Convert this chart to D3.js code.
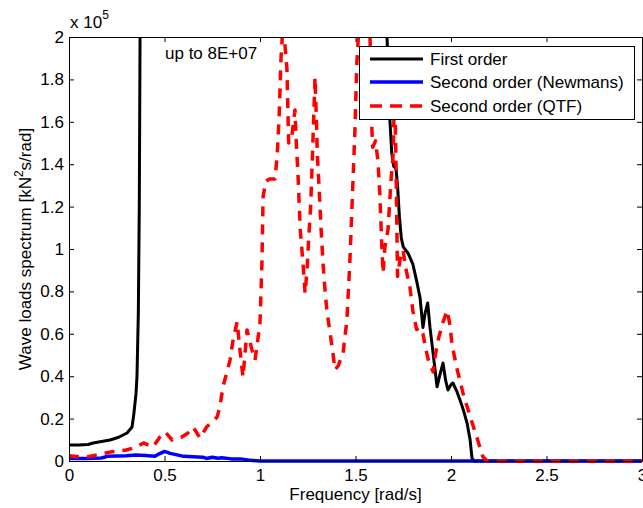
<!DOCTYPE html>
<html><head><meta charset="utf-8">
<script src="https://cdn.jsdelivr.net/npm/d3@7"></script>
<style>body{margin:0;background:#fff}svg{display:block}</style>
</head><body>
<svg id="chart" width="643" height="508"></svg>
<script>
// values in units of 1e5 kN^2 s/rad
const xTicks = [0, 0.5, 1, 1.5, 2, 2.5, 3];
const yTicks = [0, 0.2, 0.4, 0.6, 0.8, 1, 1.2, 1.4, 1.6, 1.8, 2];
const seriesNames = ["First order", "Second order (Newmans)", "Second order (QTF)"];
const firstOrder = [[0,0.075],[0.05,0.075],[0.1,0.078],[0.126,0.085],[0.215,0.099],[0.26,0.112],[0.304,0.132],[0.33,0.16],[0.34,0.226],[0.351,0.32],[0.356,0.40],[0.363,0.7],[0.368,1.2],[0.372,2.0],[0.4,20],[0.6,800],[0.9,300],[1.2,30],[1.64,2.6],[1.665,2.0],[1.675,1.75],[1.68,1.61],[1.69,1.45],[1.70,1.39],[1.712,1.38],[1.72,1.30],[1.73,1.15],[1.74,1.05],[1.75,1.01],[1.775,0.98],[1.80,0.93],[1.82,0.85],[1.838,0.77],[1.853,0.63],[1.865,0.70],[1.878,0.745],[1.89,0.63],[1.906,0.51],[1.927,0.35],[1.94,0.40],[1.958,0.462],[1.972,0.38],[1.984,0.335],[2.0,0.36],[2.01,0.368],[2.03,0.33],[2.047,0.288],[2.065,0.24],[2.084,0.179],[2.1,0.10],[2.11,0.014],[2.12,0],[3.0,0]];
const newmans = [[0,0.012],[0.1,0.012],[0.17,0.014],[0.2,0.022],[0.3,0.025],[0.35,0.028],[0.4,0.026],[0.45,0.022],[0.475,0.035],[0.5,0.045],[0.53,0.036],[0.56,0.03],[0.6,0.022],[0.65,0.02],[0.7,0.018],[0.72,0.012],[0.75,0.018],[0.78,0.013],[0.8,0.015],[0.85,0.01],[0.9,0.01],[0.95,0.003],[1.0,0],[3.0,0]];
const qtf = [[0,0.025],[0.05,0.02],[0.1,0.02],[0.15,0.03],[0.215,0.042],[0.30,0.052],[0.35,0.065],[0.39,0.085],[0.44,0.066],[0.476,0.113],[0.503,0.137],[0.54,0.099],[0.59,0.113],[0.62,0.13],[0.65,0.16],[0.686,0.108],[0.72,0.16],[0.775,0.207],[0.79,0.255],[0.806,0.35],[0.827,0.42],[0.843,0.476],[0.859,0.57],[0.88,0.656],[0.895,0.524],[0.911,0.396],[0.932,0.618],[0.958,0.524],[0.974,0.476],[1.0,0.65],[1.01,0.93],[1.016,1.245],[1.03,1.32],[1.05,1.33],[1.078,1.33],[1.089,1.43],[1.1,1.62],[1.11,1.9],[1.12,2.05],[1.13,1.97],[1.141,1.85],[1.15,1.5],[1.165,1.52],[1.183,1.656],[1.19,1.5],[1.20,1.33],[1.21,1.1],[1.225,0.934],[1.236,0.79],[1.246,0.9],[1.255,1.05],[1.265,1.2],[1.275,1.45],[1.288,1.81],[1.295,1.62],[1.30,1.45],[1.31,1.28],[1.32,1.09],[1.33,0.93],[1.34,0.81],[1.35,0.71],[1.377,0.54],[1.393,0.43],[1.41,0.45],[1.435,0.51],[1.455,0.665],[1.47,0.93],[1.487,1.325],[1.497,1.56],[1.507,1.877],[1.515,2.0],[1.54,2.4],[1.565,2.1],[1.576,2.0],[1.586,1.56],[1.59,1.48],[1.605,1.51],[1.618,1.41],[1.628,1.245],[1.638,1.01],[1.644,0.887],[1.654,1.01],[1.67,1.09],[1.686,1.325],[1.696,1.43],[1.705,1.75],[1.712,1.4],[1.72,0.87],[1.733,0.95],[1.749,0.995],[1.765,0.90],[1.785,0.82],[1.80,0.71],[1.82,0.62],[1.835,0.63],[1.853,0.60],[1.87,0.52],[1.88,0.48],[1.906,0.42],[1.918,0.50],[1.935,0.58],[1.96,0.66],[1.98,0.71],[1.995,0.64],[2.005,0.55],[2.03,0.44],[2.063,0.32],[2.10,0.21],[2.136,0.11],[2.167,0.02],[2.19,0],[3.0,0]];

const svg = d3.select("#chart");
const L = 69, R = 642, T = 37, B = 461;
const FONT = "Liberation Sans, Arial, Helvetica, sans-serif";
const x = d3.scaleLinear().domain([0, 3]).range([L, R]);
const y = d3.scaleLinear().domain([0, 2]).range([B, T]);

svg.append("defs").append("clipPath").attr("id", "clip")
  .append("rect").attr("x", L).attr("y", T).attr("width", R - L + 1).attr("height", B - T + 3);

const line = d3.line().x(d => x(d[0])).y(d => y(d[1]));
const g = svg.append("g").attr("clip-path", "url(#clip)");
const styles = [
  {data: firstOrder, color: "#000000", w: 3, dash: null},
  {data: newmans, color: "#0000ff", w: 3.5, dash: null},
  {data: qtf, color: "#ff0000", w: 3.5, dash: "10,8"}
];
styles.forEach(s => {
  g.append("path").datum(s.data).attr("d", line)
    .attr("fill", "none").attr("stroke", s.color).attr("stroke-width", s.w)
    .attr("stroke-linejoin", "round")
    .attr("stroke-dasharray", s.dash);
});

function styleAxis(sel) {
  sel.attr("font-family", FONT).attr("font-size", 17);
  sel.selectAll("path,line").attr("stroke", "#000").attr("stroke-width", 1);
  sel.selectAll("text").attr("fill", "#000");
}
const fmt = d3.format("~g");
svg.append("g").attr("transform", `translate(0,${B})`)
  .call(d3.axisBottom(x).tickValues(xTicks).tickFormat(fmt).tickSizeInner(-5).tickSizeOuter(0).tickPadding(8))
  .call(styleAxis);
svg.append("g").attr("transform", `translate(${L},0)`)
  .call(d3.axisLeft(y).tickValues(yTicks).tickFormat(fmt).tickSizeInner(-5).tickSizeOuter(0).tickPadding(5))
  .call(styleAxis);
svg.append("g").attr("transform", `translate(0,${T})`)
  .call(d3.axisTop(x).tickValues(xTicks).tickFormat("").tickSizeInner(-5).tickSizeOuter(0))
  .call(styleAxis);
svg.append("g").attr("transform", `translate(${R},0)`)
  .call(d3.axisRight(y).tickValues(yTicks).tickFormat("").tickSizeInner(-5).tickSizeOuter(0))
  .call(styleAxis);

// multiplier
const mult = svg.append("text").attr("x", 70).attr("y", 28)
  .attr("font-family", FONT).attr("font-size", 17).attr("fill", "#000");
mult.append("tspan").text("x 10");
mult.append("tspan").attr("font-size", 12).attr("dy", -9).text("5");

// annotation
svg.append("text").attr("x", 165).attr("y", 59)
  .attr("font-family", FONT).attr("font-size", 17).attr("fill", "#000")
  .text("up to 8E+07");

// axis labels
svg.append("text").attr("x", (L + R) / 2).attr("y", 500).attr("text-anchor", "middle")
  .attr("font-family", FONT).attr("font-size", 17).attr("fill", "#000")
  .text("Frequency [rad/s]");
const yl = svg.append("text").attr("transform", `translate(31,${(T + B) / 2}) rotate(-90)`)
  .attr("text-anchor", "middle").attr("font-family", FONT).attr("font-size", 17).attr("fill", "#000");
yl.append("tspan").text("Wave loads spectrum [kN");
yl.append("tspan").attr("font-size", 12).attr("dy", -8).text("2");
yl.append("tspan").attr("dy", 8).text("s/rad]");

// legend
const lg = svg.append("g");
lg.append("rect").attr("x", 359.5).attr("y", 46.5).attr("width", 275).attr("height", 73)
  .attr("fill", "#fff").attr("stroke", "#000").attr("stroke-width", 1);
const rowsY = [59, 82, 106];
styles.forEach((s, i) => {
  lg.append("line").attr("x1", 370).attr("x2", 423).attr("y1", rowsY[i]).attr("y2", rowsY[i])
    .attr("stroke", s.color).attr("stroke-width", s.w).attr("stroke-dasharray", s.dash ? "12,8" : null);
  lg.append("text").attr("x", 430).attr("y", rowsY[i] + 6)
    .attr("font-family", FONT).attr("font-size", 17).attr("fill", "#000").text(seriesNames[i]);
});
</script>
</body></html>
